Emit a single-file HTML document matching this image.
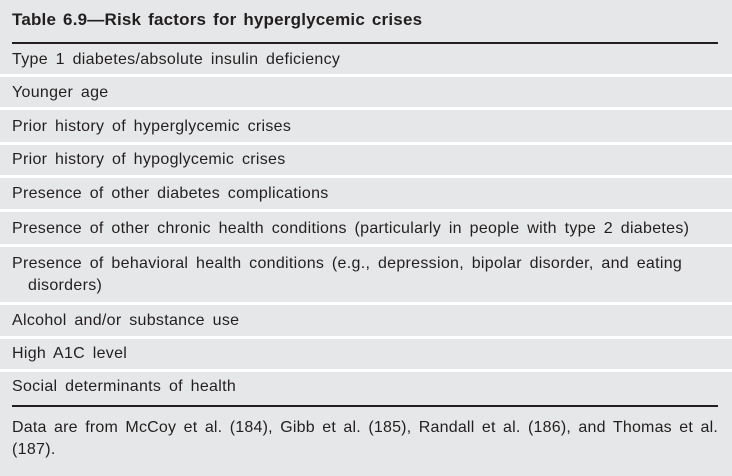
<!DOCTYPE html>
<html><head><meta charset="utf-8"><style>
body{margin:0;width:732px;height:476px;background:#e6e7e8;position:relative;overflow:hidden;font-family:"Liberation Sans",sans-serif;color:#231f20}
.t{position:absolute;left:12px;font-size:16px;letter-spacing:0.3px;word-spacing:3px;white-space:nowrap;line-height:18px}
.sep{position:absolute;left:0;width:732px;height:3px;background:#fff}
.rule{position:absolute;left:12px;width:706px;height:2px;background:#231f20}
</style></head><body>
<div class="t" style="top:11px;font-weight:bold;font-size:17px;letter-spacing:0.2px;word-spacing:2px">Table 6.9—Risk factors for hyperglycemic crises</div>
<div class="rule" style="top:42px"></div>
<div class="t" style="top:51px">Type 1 diabetes/absolute insulin deficiency</div>
<div class="sep" style="top:74px"></div>
<div class="t" style="top:84px">Younger age</div>
<div class="sep" style="top:107px"></div>
<div class="t" style="top:118px">Prior history of hyperglycemic crises</div>
<div class="sep" style="top:142px"></div>
<div class="t" style="top:151px">Prior history of hypoglycemic crises</div>
<div class="sep" style="top:175px"></div>
<div class="t" style="top:185px">Presence of other diabetes complications</div>
<div class="sep" style="top:209px"></div>
<div class="t" style="top:220px">Presence of other chronic health conditions (particularly in people with type 2 diabetes)</div>
<div class="sep" style="top:244px"></div>
<div class="t" style="top:255px">Presence of behavioral health conditions (e.g., depression, bipolar disorder, and eating</div>
<div class="t" style="top:277px;left:28px">disorders)</div>
<div class="sep" style="top:302px"></div>
<div class="t" style="top:312px">Alcohol and/or substance use</div>
<div class="sep" style="top:336px"></div>
<div class="t" style="top:345px">High A1C level</div>
<div class="sep" style="top:369px"></div>
<div class="t" style="top:378px">Social determinants of health</div>
<div class="rule" style="top:405px"></div>
<div class="t" style="top:419px;width:706px;white-space:nowrap;text-align:justify;text-align-last:justify;word-spacing:1px;letter-spacing:0.2px">Data are from McCoy et al. (184), Gibb et al. (185), Randall et al. (186), and Thomas et al.</div>
<div class="t" style="top:441px">(187).</div>
</body></html>
